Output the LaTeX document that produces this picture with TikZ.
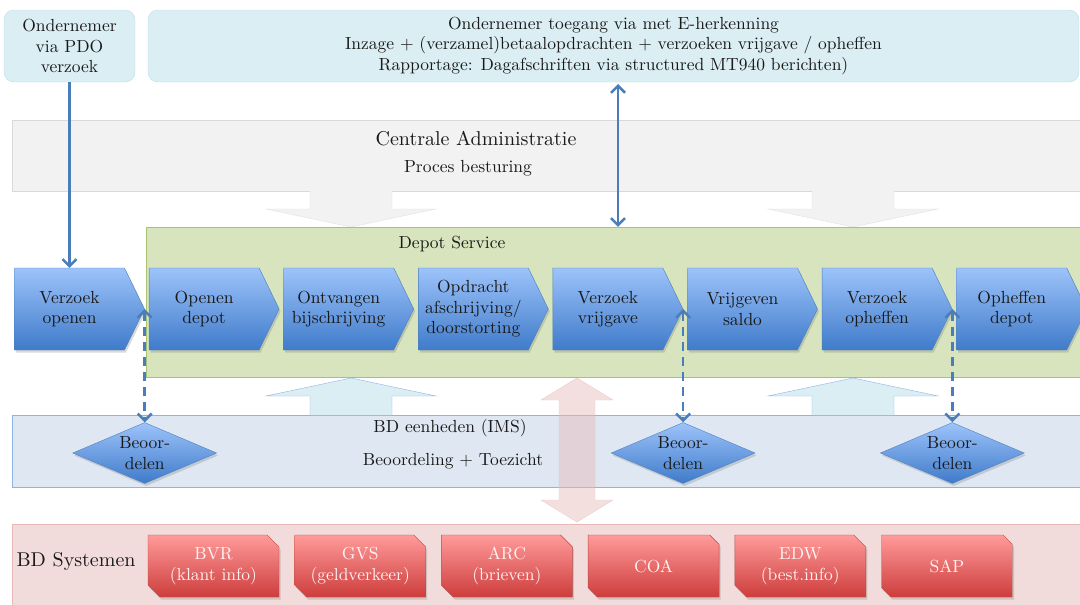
\documentclass[tikz,border=0pt]{standalone}
\usepackage{fontspec}
\setmainfont{lmroman10-regular.otf}
\usetikzlibrary{shapes.symbols,shapes.geometric,shapes.misc,arrows.meta,shadows}

\definecolor{bovenvul}{HTML}{DBEEF4}
\definecolor{bovenrand}{HTML}{B7DDE8}
\definecolor{grijsvul}{HTML}{F2F2F2}
\definecolor{grijsrand}{HTML}{D9D9D9}
\definecolor{groenvul}{HTML}{D7E4BD}
\definecolor{groenrand}{HTML}{A9C271}
\definecolor{imsvul}{HTML}{DFE8F2}
\definecolor{imsrand}{HTML}{8EB4E3}
\definecolor{roodvul}{HTML}{F2DCDB}
\definecolor{roodrand}{HTML}{E6B9B8}
\definecolor{stapboven}{HTML}{9DC3FA}
\definecolor{staponder}{HTML}{3F7BCA}
\definecolor{staprand}{HTML}{4F81BD}
\definecolor{sysboven}{HTML}{FF9B9A}
\definecolor{sysonder}{HTML}{CD3D3C}
\definecolor{sysrand}{HTML}{B84A49}
\definecolor{pijlblauw}{HTML}{4A7EBB}

\begin{document}
\begin{tikzpicture}[x=1pt,y=-1pt,>={Straight Barb[length=7pt,width=14pt]},
    tekst/.style={font=\fontsize{17.5}{20.5}\selectfont, text=black!90, align=center},
    bovenbox/.style={tekst, draw=bovenrand, fill=bovenvul, rounded corners=10pt, inner sep=0pt},
    band/.style={draw=#1rand, fill=#1vul, inner sep=0pt},
    schaduw/.style={drop shadow={shadow xshift=1.5pt, shadow yshift=-2.5pt, opacity=0.3}},
    stap/.style={tekst, shape=signal, signal to=east, signal pointer angle=128,
        draw=staprand, top color=stapboven, bottom color=staponder,
        minimum width=130pt, minimum height=82pt, inner sep=0pt, schaduw},
    beoordeel/.style={tekst, shape=diamond, aspect=2.36, draw=staprand,
        top color=stapboven, bottom color=staponder,
        minimum width=144pt, minimum height=61pt, inner sep=0pt, schaduw},
    systeem/.style={tekst, text=white!95!red, shape=chamfered rectangle,
        chamfered rectangle corners={north east,south west}, chamfered rectangle xsep=9pt,
        draw=sysrand, top color=sysboven, bottom color=sysonder,
        minimum width=131pt, minimum height=62pt, inner sep=0pt, schaduw},
    lijn/.style={draw=pijlblauw, line width=2.5pt},
    stippel/.style={lijn, dash pattern=on 9pt off 6pt}]
\clip (0,0) rectangle (1080,605);

% bovenste vakken
\node[bovenbox, minimum width=131pt, minimum height=72pt] (pdo) at (69.5,46) {Ondernemer\\via PDO\\verzoek};
\node[bovenbox, minimum width=931pt, minimum height=72pt] (ehk) at (613.5,46) {Ondernemer toegang via met E-herkenning\\Inzage + (verzamel)betaalopdrachten + verzoeken vrijgave / opheffen\\Rapportage: Dagafschriften via structured MT940 berichten)};
\coordinate (ehkvoet) at (618,84);

% lagen
\node[band=grijs, minimum width=1078pt, minimum height=71pt] (centraal) at (551,155.5) {};
\node[tekst, font=\fontsize{20}{24}\selectfont] (catitel) at (476,139) {Centrale Administratie};
\node[tekst] (proces) at (468,168) {Proces besturing};

\foreach \xc in {351,853}
    \draw[draw=grijsrand!80, fill=grijsvul] ({\xc-41},191) -- ({\xc-41},209) -- ({\xc-85},209) -- (\xc,227)
        -- ({\xc+85},209) -- ({\xc+41},209) -- ({\xc+41},191);

\node[band=groen, minimum width=944pt, minimum height=150pt] (depot) at (618,302) {};
\node[tekst] (depottitel) at (452,244) {Depot Service};

\node[band=ims, minimum width=1078pt, minimum height=72pt] (ims) at (551,451) {};
\node[tekst] (imstitel) at (450,428) {BD eenheden (IMS)};
\node[tekst] (toezicht) at (453,461) {Beoordeling + Toezicht};

\foreach \xc in {351,853}
    \draw[draw=imsrand, fill=bovenvul] ({\xc-41},415) -- ({\xc-41},396) -- ({\xc-85},396) -- (\xc,378)
        -- ({\xc+85},396) -- ({\xc+41},396) -- ({\xc+41},415);

\node[band=rood, minimum width=1078pt, minimum height=86pt] (systemen) at (551,567) {};
\node[tekst, anchor=west, font=\fontsize{20}{24}\selectfont] (bdsys) at (13,561) {BD Systemen};

\draw[draw=roodrand, fill=roodrand, fill opacity=0.45, draw opacity=0.7]
    (577,378) -- (613,400) -- (595,400) -- (595,500) -- (613,500) -- (577,522)
    -- (541,500) -- (559,500) -- (559,400) -- (541,400) -- cycle;

% processtappen
\foreach \naam [count=\i from 0] in {Verzoek\\openen, Openen\\depot, Ontvangen\\bijschrijving,
        Opdracht\\afschrijving/\\doorstorting, Verzoek\\vrijgave, Vrijgeven\\saldo,
        Verzoek\\opheffen, Opheffen\\depot}
    \node[stap] (c\i) at ({69.5+134.6*\i},309) {\naam};

% beoordelen
\node[beoordeel] (b1) at (c0.east |- 0,453) {Beoor-\\delen};
\node[beoordeel] (b2) at (c4.east |- 0,453) {Beoor-\\delen};
\node[beoordeel] (b3) at (c6.east |- 0,453) {Beoor-\\delen};

% systemen
\foreach \naam [count=\i] in {BVR\\(klant info), GVS\\(geldverkeer), ARC\\(brieven), COA,
        EDW\\(best.info), SAP}
    \node[systeem] (s\i) at ({66.8+146.7*\i},566) {\naam};

% pijlen
\draw[lijn, ->] (pdo.south) -- (pdo.south |- c0.north);
\draw[lijn, <->] (ehkvoet) -- (ehkvoet |- depot.north);
\draw[stippel, <->] (c0.east) -- (b1.north);
\draw[stippel, <->] (c4.east) -- (b2.north);
\draw[stippel, <->] (c6.east) -- (b3.north);
\end{tikzpicture}
\end{document}
